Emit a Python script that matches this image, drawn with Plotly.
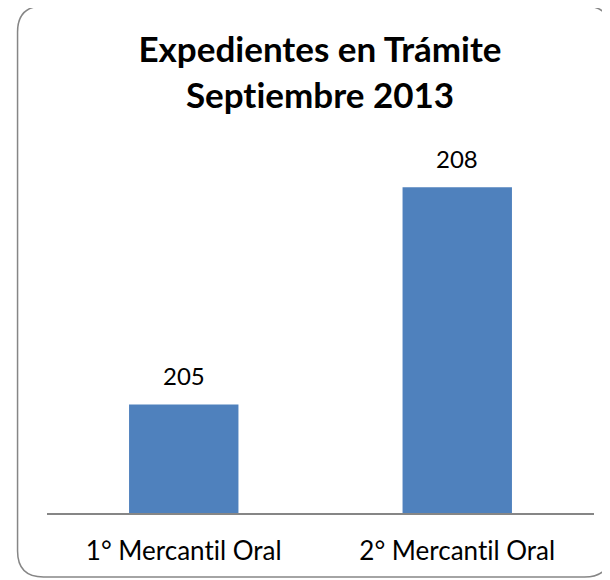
import plotly.graph_objects as go

categories = ["1° Mercantil Oral", "2° Mercantil Oral"]
values = [205, 208]
title_lines = ["Expedientes en Trámite", "Septiembre 2013"]

ZWNJ = "\u200c"
def no_lig(s):
    # break the "ti" ligature of the substitute font
    return s.replace("ti", "t" + ZWNJ + "i")

OFF = 8  # page body margin
W, H = 610 - OFF, 580 - OFF
# plot area in reference pixel coords
left, right, top, bottom = 46.5, 594.5, 151, 513
ml, mr = left - OFF, W - (right - OFF)
mt, mb = top - OFF, H - (bottom - OFF)
pw, ph = W - ml - mr, H - mt - mb

def P(x, y):
    a = (x - OFF - ml) / pw
    b = (H - mb - (y - OFF)) / ph
    return f"{a:.5f},{b:.5f}"

x0, y0, x1, y1, r = 17, 6, 611, 577, 26
path = (f"M {P(x0+r, y0)} L {P(x1-r, y0)} Q {P(x1, y0)} {P(x1, y0+r)} "
        f"L {P(x1, y1-r)} Q {P(x1, y1)} {P(x1-r, y1)} "
        f"L {P(x0+r, y1)} Q {P(x0, y1)} {P(x0, y1-r)} "
        f"L {P(x0, y0+r)} Q {P(x0, y0)} {P(x0+r, y0)} Z")

fig = go.Figure()
fig.add_trace(go.Bar(
    x=categories, y=values, marker_color="#4F81BD", width=0.4,
    marker_line_width=0, showlegend=False, hoverinfo="x+y",
))
for c, v in zip(categories, values):
    fig.add_annotation(x=c, y=v, text=str(v), showarrow=False, yanchor="bottom",
                       yshift=12, font=dict(family="Lato", size=24, color="#000"))

fig.add_shape(type="path", path=path, xref="paper", yref="paper",
              line=dict(color="#868686", width=1.5), fillcolor="rgba(0,0,0,0)", layer="below")

fig.update_layout(
    width=W, height=H, margin=dict(l=ml, r=mr, t=mt, b=mb, autoexpand=False),
    paper_bgcolor="white", plot_bgcolor="white",
    title=dict(text="<b>" + "<br>".join(no_lig(t) for t in title_lines) + "</b>",
               x=(320 - OFF) / W, xanchor="center",
               y=1 - (62 - OFF) / H, yanchor="top",
               font=dict(family="Lato", size=35, color="#000")),
)
fig.update_xaxes(showline=True, linecolor="#868686", linewidth=1.5, ticks="",
                 tickvals=categories, ticktext=[no_lig(c) for c in categories],
                 tickfont=dict(family="Lato", size=26, color="#000"),
                 ticklabelstandoff=14, showgrid=False)
fig.update_yaxes(range=[203.5, 208.5], visible=False, showgrid=False)

fig.write_html("out.html")
